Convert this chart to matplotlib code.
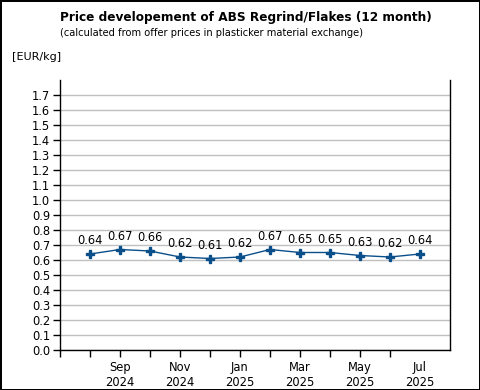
"""Price development chart for ABS regrind/flakes."""

import matplotlib

matplotlib.use("Agg")
import matplotlib.pyplot as plt

months = ["Aug 2024", "Sep 2024", "Oct 2024", "Nov 2024", "Dec 2024", "Jan 2025",
          "Feb 2025", "Mar 2025", "Apr 2025", "May 2025", "Jun 2025", "Jul 2025"]
prices = [0.64, 0.67, 0.66, 0.62, 0.61, 0.62, 0.67, 0.65, 0.65, 0.63, 0.62, 0.64]
tick_labels = ["", "Sep\n2024", "", "Nov\n2024", "", "Jan\n2025",
               "", "Mar\n2025", "", "May\n2025", "", "Jul\n2025"]
y_ticks = [round(0.1 * i, 1) for i in range(18)]

blue = "#0b4f8a"
font = "DejaVu Sans"

fig = plt.figure(figsize=(4.8, 3.9), dpi=100)
fig.patch.set_edgecolor("black")
fig.patch.set_linewidth(2)
ax = fig.add_axes([60 / 480, 40 / 390, 390 / 480, 270 / 390])

x = list(range(1, len(prices) + 1))
ax.plot(x, prices, color=blue, lw=1, marker="P", ms=6, mec=blue, mfc=blue, zorder=3)
for xi, p in zip(x, prices):
    ax.annotate(f"{p:.2f}", (xi, p), xytext=(0, 5), textcoords="offset points",
                ha="center", va="bottom", fontsize=8.3, family=font)

ax.set_xlim(0, 13)
ax.set_ylim(0, 1.8)
ax.set_yticks(y_ticks)
ax.set_yticklabels([f"{v:.1f}" for v in y_ticks], fontsize=8.3, family=font)
ax.xaxis.remove_overlapping_locs = False
ax.set_xticks(range(0, 12))
ax.set_xticklabels([""] * 12)
ax.set_xticks(x, tick_labels, minor=True, fontsize=8.3, family=font)
ax.tick_params(axis="x", which="major", length=5, width=1, color="black")
ax.tick_params(axis="x", which="minor", length=0, pad=8)
ax.tick_params(axis="y", length=5, width=1, pad=2)
ax.grid(axis="y", color="#c0c0c0", lw=1)
ax.set_axisbelow(True)
ax.spines["top"].set_visible(False)
for s in ["left", "right", "bottom"]:
    ax.spines[s].set_linewidth(1)

fig.text(60 / 480, 1 - 17 / 390, "Price developement of ABS Regrind/Flakes (12 month)",
         fontsize=8.7, fontweight="bold", family=font, va="center")
fig.text(60 / 480, 1 - 33 / 390, "(calculated from offer prices in plasticker material exchange)",
         fontsize=7.1, family=font, va="center")
fig.text(12 / 480, 1 - 57 / 390, "[EUR/kg]", fontsize=8, family=font, va="center")

fig.savefig("out.png", dpi=100)
